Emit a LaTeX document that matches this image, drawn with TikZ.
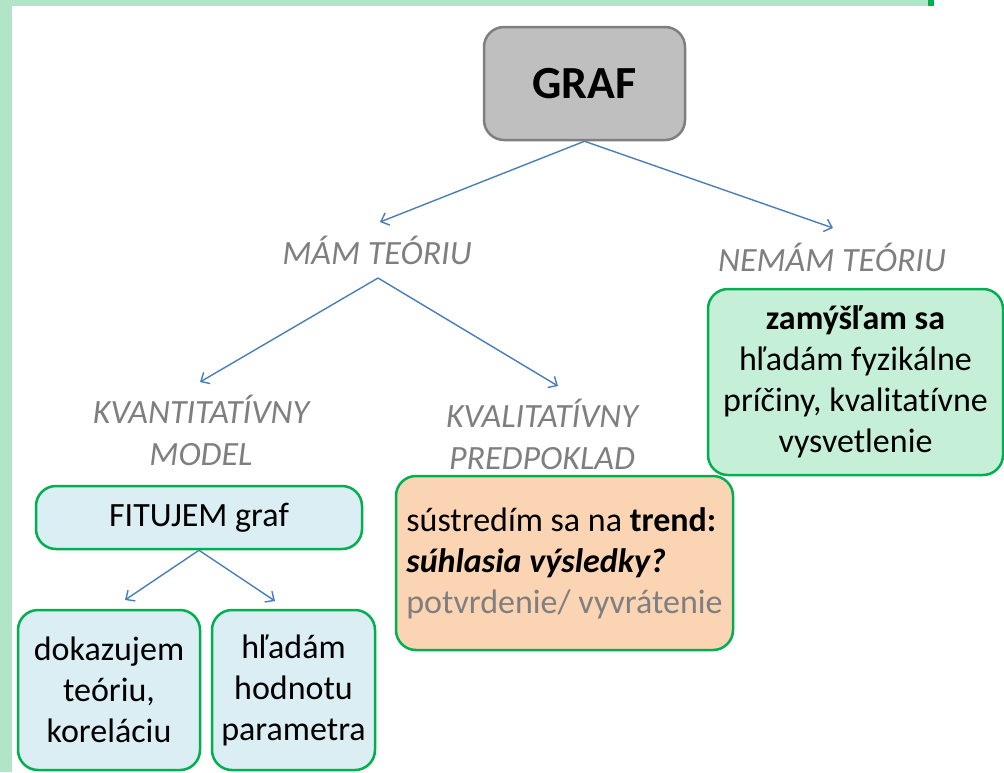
\documentclass[tikz,border=0pt]{standalone}
\usepackage{fontspec}
\setmainfont{Carlito}[Ligatures={NoCommon,NoContextual,NoRare,TeX},Contextuals=NoAlternate]
\usetikzlibrary{arrows.meta}
\definecolor{stripgreen}{HTML}{B2E5C8}
\definecolor{darkgreen}{HTML}{00B050}
\definecolor{boxgray}{HTML}{BFBFBF}
\definecolor{bordergray}{HTML}{7F7F7F}
\definecolor{labelgray}{HTML}{7F7F7F}
\definecolor{arrowblue}{HTML}{4A7EBB}
\definecolor{lightblue}{HTML}{DAEEF3}
\definecolor{lightorange}{HTML}{FBD4B4}
\definecolor{lightgreen}{HTML}{C6EFD8}
\tikzset{
  txt/.style={font=\fontsize{34}{41}\selectfont, align=center, inner sep=0pt},
  lbl/.style={txt, text=labelgray, font=\fontsize{34}{42}\selectfont\itshape},
  gbox/.style={draw=darkgreen, line width=2.5pt, rounded corners=20pt, txt},
  arr/.style={draw=arrowblue, line width=1.4pt, -{Straight Barb[length=7pt,width=13pt,line width=1.4pt]}}
}
\begin{document}
\begin{tikzpicture}[x=1pt,y=-1pt]
\useasboundingbox (0,0) rectangle (1004,772);
\fill[stripgreen] (0,0) rectangle (12,772);
\fill[stripgreen] (0,0) rectangle (928,6);
\fill[darkgreen] (928,0) rectangle (934,6);

\node[draw=bordergray, fill=boxgray, line width=2.5pt, rounded corners=20pt,
      minimum width=201pt, minimum height=113pt, inner sep=0pt,
      font=\fontsize{46}{50}\selectfont\bfseries] (graf) at (584.5,83.5) {GRAF};

\node[lbl] (mam) at (377,250) {MÁM TEÓRIU};
\node[lbl] (nemam) at (832,257) {NEMÁM TEÓRIU};
\node[lbl] (kvant) at (201,430) {KVANTITATÍVNY\\MODEL};
\node[lbl] (kval) at (542,434) {KVALITATÍVNY\\PREDPOKLAD};

\node[gbox, fill=lightblue, minimum width=326pt, minimum height=63pt] (fit) at (199,517.5) {FITUJEM graf};
\node[gbox, fill=lightblue, minimum width=182pt, minimum height=160pt] (dok) at (109,690) {dokazujem\\teóriu,\\koreláciu};
\node[gbox, fill=lightblue, minimum width=163pt, minimum height=160pt] (hlad) at (293.5,690) {hľadám\\hodnotu\\parametra};
\node[gbox, fill=lightorange, minimum width=337pt, minimum height=174pt, align=left] (trend) at (564.5,563)
  {sústredím sa na \textbf{trend:}\\\textbf{\textit{súhlasia výsledky?}}\\\textcolor{labelgray}{potvrdenie/ vyvrátenie}};
\node[gbox, fill=lightgreen, minimum width=295pt, minimum height=186pt] (zam) at (855.5,382)
  {\textbf{zamýšľam sa}\\hľadám fyzikálne\\príčiny, kvalitatívne\\vysvetlenie};

\coordinate (mamS) at (378,278);
\coordinate (mamT) at (380,222);
\coordinate (nemT) at (833,228);
\coordinate (kvantT) at (200,382);
\coordinate (kvalT) at (558,386);
\coordinate (dokT) at (125,600);
\coordinate (hladT) at (275,601);

\draw[arr] (graf.south) -- (mamT);
\draw[arr] (graf.south) -- (nemT);
\draw[arr] (mamS) -- (kvantT);
\draw[arr] (mamS) -- (kvalT);
\draw[arr] (fit.south) -- (dokT);
\draw[arr] (fit.south) -- (hladT);
\end{tikzpicture}
\end{document}
